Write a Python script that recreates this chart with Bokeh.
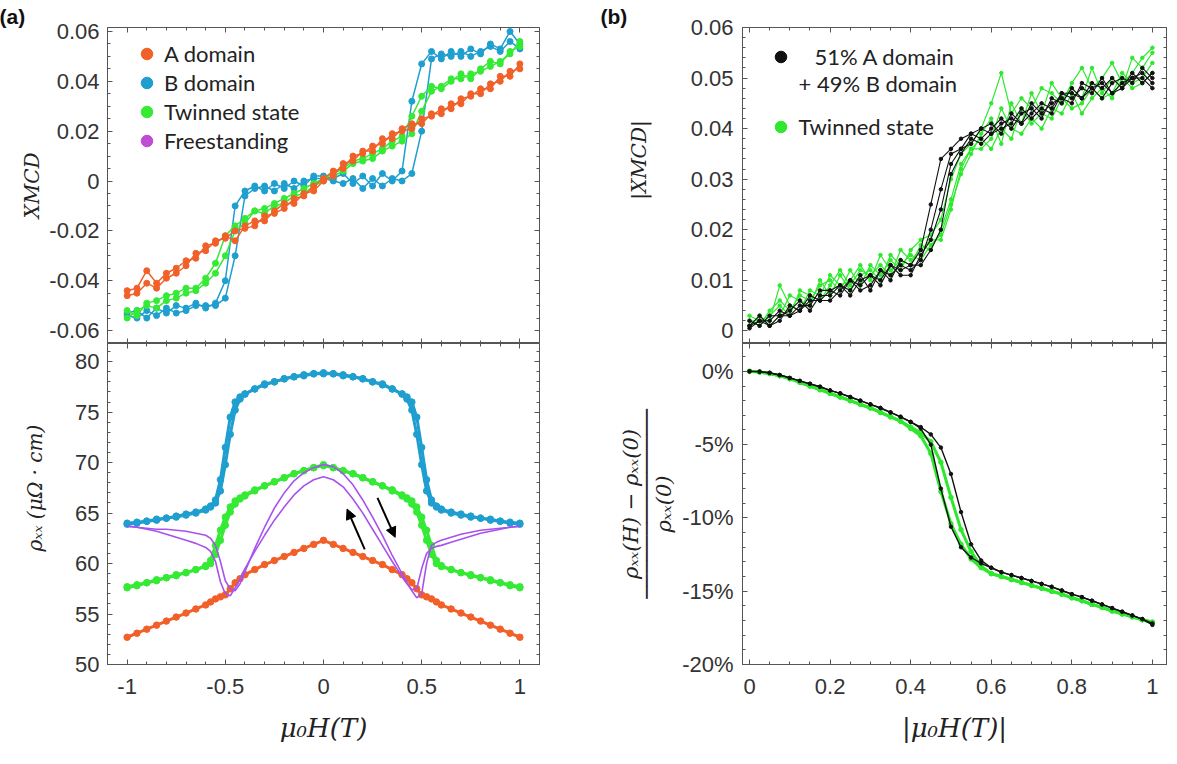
import math
from bokeh.plotting import figure
from bokeh.layouts import row, column
from bokeh.models import (Range1d, LinearAxis, FixedTicker, Label, Legend, LegendItem,
                          Arrow, NormalHead)
from bokeh.embed import file_html
from bokeh.resources import INLINE

# ---------------- data: panel (a) top, XMCD vs field ----------------
H_a = [-1.0, -0.95, -0.9, -0.85, -0.8, -0.75, -0.7, -0.65, -0.6, -0.55,
       -0.5, -0.45, -0.4, -0.35, -0.3, -0.25, -0.2, -0.15, -0.1, -0.05,
       0.0,
       0.05, 0.1, 0.15, 0.2, 0.25, 0.3, 0.35, 0.4, 0.45, 0.5,
       0.55, 0.6, 0.65, 0.7, 0.75, 0.8, 0.85, 0.9, 0.95, 1.0]
A_up = [-0.046, -0.045, -0.041, -0.043, -0.039, -0.037, -0.034, -0.029, -0.028, -0.024,
        -0.023, -0.020, -0.019, -0.018, -0.014, -0.013, -0.011, -0.007, -0.006, -0.002,
        0.001,
        0.004, 0.005, 0.010, 0.011, 0.014, 0.015, 0.019, 0.020, 0.021, 0.025,
        0.026, 0.029, 0.029, 0.033, 0.034, 0.037, 0.037, 0.042, 0.042, 0.047]
A_dn = [-0.044, -0.043, -0.036, -0.041, -0.037, -0.035, -0.032, -0.031, -0.026, -0.025,
        -0.022, -0.024, -0.018, -0.016, -0.016, -0.012, -0.009, -0.009, -0.005, -0.004,
        0.000,
        0.002, 0.007, 0.008, 0.012, 0.012, 0.017, 0.017, 0.021, 0.023, 0.023,
        0.027, 0.027, 0.031, 0.031, 0.035, 0.035, 0.039, 0.040, 0.044, 0.045]
B_up = [-0.054, -0.055, -0.052, -0.054, -0.051, -0.053, -0.052, -0.050, -0.050, -0.050,
        -0.047, -0.030, -0.006, -0.003, -0.002, -0.004, -0.001, -0.003, 0.000, 0.001,
        0.001,
        0.000, -0.001, 0.001, -0.003, 0.001, -0.002, 0.001, 0.000, 0.003, 0.020,
        0.049, 0.051, 0.050, 0.052, 0.050, 0.052, 0.054, 0.052, 0.056, 0.053]
B_dn = [-0.053, -0.052, -0.055, -0.051, -0.053, -0.050, -0.051, -0.049, -0.051, -0.049,
        -0.040, -0.010, -0.004, -0.002, -0.004, -0.001, -0.003, 0.000, -0.002, 0.002,
        0.002,
        0.001, 0.003, -0.001, 0.002, -0.002, 0.003, 0.000, 0.004, 0.032, 0.047,
        0.052, 0.049, 0.052, 0.050, 0.053, 0.051, 0.055, 0.053, 0.060, 0.055]
G_up = [-0.055, -0.052, -0.050, -0.051, -0.048, -0.047, -0.045, -0.044, -0.041, -0.037,
        -0.030, -0.020, -0.017, -0.012, -0.013, -0.010, -0.009, -0.006, -0.005, -0.002,
        0.000,
        0.002, 0.004, 0.007, 0.008, 0.009, 0.012, 0.014, 0.016, 0.019, 0.028,
        0.036, 0.038, 0.041, 0.041, 0.043, 0.044, 0.046, 0.048, 0.051, 0.056]
G_dn = [-0.052, -0.054, -0.049, -0.048, -0.046, -0.045, -0.043, -0.043, -0.039, -0.033,
        -0.022, -0.018, -0.015, -0.012, -0.011, -0.009, -0.007, -0.005, -0.003, -0.001,
        0.001,
        0.003, 0.005, 0.008, 0.009, 0.011, 0.013, 0.016, 0.018, 0.026, 0.034,
        0.038, 0.037, 0.040, 0.043, 0.041, 0.045, 0.048, 0.047, 0.052, 0.054]

# ---------------- data: panel (a) bottom, rho_xx vs field ----------------
H_r = [-1.0, -0.95, -0.9, -0.85, -0.8, -0.75, -0.7, -0.65, -0.6,
       -0.575, -0.55, -0.525, -0.5, -0.475, -0.45, -0.425,
       -0.4, -0.35, -0.3, -0.25, -0.2, -0.15, -0.1, -0.05, 0.0, 0.05, 0.1, 0.15, 0.2, 0.25, 0.3, 0.35, 0.4,
       0.425, 0.45, 0.475, 0.5, 0.525, 0.55, 0.575,
       0.6, 0.65, 0.7, 0.75, 0.8, 0.85, 0.9, 0.95, 1.0]
A_rho = [52.7, 53.1, 53.5, 53.9, 54.3, 54.7, 55.1, 55.5, 55.9,
         56.2, 56.5, 56.7, 56.9, 57.5, 58.1, 58.5,
         58.9, 59.4, 59.9, 60.3, 60.7, 61.1, 61.5, 61.9, 62.3, 61.9, 61.5, 61.1, 60.7, 60.3, 59.9, 59.4, 58.9,
         58.5, 58.1, 57.5, 56.9, 56.7, 56.5, 56.2,
         55.9, 55.5, 55.1, 54.7, 54.3, 53.9, 53.5, 53.1, 52.7]
B1_rho = [64.0, 64.1, 64.2, 64.4, 64.5, 64.7, 64.9, 65.1, 65.4,
          65.7, 66.3, 68.3, 71.5, 74.5, 76.0, 76.5,
          76.8, 77.3, 77.8, 78.0, 78.3, 78.5, 78.6, 78.8, 78.8, 78.8, 78.6, 78.5, 78.3, 78.0, 77.8, 77.3, 76.8,
          76.3, 75.2, 72.8, 69.8, 67.2, 66.0, 65.6,
          65.4, 65.1, 64.9, 64.7, 64.5, 64.4, 64.2, 64.1, 64.0]
B2_rho = [63.9, 64.0, 64.2, 64.3, 64.5, 64.6, 64.8, 65.0, 65.3,
          65.6, 66.0, 67.2, 69.8, 72.8, 75.2, 76.3,
          76.8, 77.3, 77.7, 78.0, 78.3, 78.5, 78.7, 78.8, 78.9, 78.8, 78.7, 78.5, 78.3, 78.0, 77.7, 77.3, 76.8,
          76.5, 76.0, 74.5, 71.5, 68.3, 66.3, 65.7,
          65.3, 65.0, 64.8, 64.6, 64.5, 64.3, 64.2, 64.0, 63.9]
G1_rho = [57.6, 57.8, 58.1, 58.3, 58.6, 58.8, 59.1, 59.4, 59.7,
          60.3, 61.8, 63.3, 64.6, 65.6, 66.2, 66.5,
          66.8, 67.3, 67.7, 68.1, 68.5, 68.9, 69.2, 69.5, 69.7, 69.5, 69.2, 68.9, 68.5, 68.1, 67.7, 67.3, 66.8,
          66.4, 65.9, 65.1, 63.8, 62.3, 60.9, 60.0,
          59.7, 59.4, 59.1, 58.8, 58.6, 58.3, 58.1, 57.8, 57.6]
G2_rho = [57.7, 57.9, 58.1, 58.4, 58.6, 58.9, 59.1, 59.4, 59.8,
          60.0, 60.9, 62.3, 63.8, 65.1, 65.9, 66.4,
          66.7, 67.2, 67.7, 68.1, 68.5, 68.9, 69.2, 69.5, 69.8, 69.5, 69.2, 68.9, 68.5, 68.1, 67.7, 67.2, 66.7,
          66.5, 66.2, 65.6, 64.6, 63.3, 61.8, 60.3,
          59.8, 59.4, 59.1, 58.9, 58.6, 58.4, 58.1, 57.9, 57.7]
P1_rho = [63.7, 63.6, 63.5, 63.4, 63.4, 63.3, 63.2, 63.0, 62.8,
          62.5, 61.8, 60.2, 58.3, 57.5, 57.3, 58.0,
          59.2, 61.5, 63.6, 65.5, 67.0, 68.2, 69.0, 69.5, 69.8, 69.6, 68.9, 67.8, 66.3, 64.6, 62.8, 60.8, 59.0,
          58.1, 57.3, 56.6, 57.0, 60.0, 61.8, 62.1,
          62.3, 62.6, 62.9, 63.1, 63.3, 63.4, 63.5, 63.6, 63.7]
P2_rho = [63.7, 63.6, 63.4, 63.2, 62.9, 62.6, 62.3, 62.0, 61.6,
          61.2, 60.2, 58.2, 57.0, 56.8, 57.6, 58.5,
          59.5, 61.2, 62.8, 64.3, 65.6, 66.8, 67.7, 68.3, 68.6, 68.3, 67.6, 66.4, 65.0, 63.4, 61.8, 60.2, 58.7,
          58.0, 57.4, 57.5, 59.5, 61.0, 61.5, 61.7,
          61.8, 62.1, 62.4, 62.7, 63.0, 63.2, 63.4, 63.6, 63.7]

# ---------------- data: panel (b) top, |XMCD| vs |H| ----------------
H_b = [0.0, 0.025, 0.05, 0.075, 0.1, 0.125, 0.15, 0.175, 0.2, 0.225,
       0.25, 0.275, 0.3, 0.325, 0.35, 0.375, 0.4, 0.425, 0.45, 0.475,
       0.5, 0.525, 0.55, 0.575, 0.6, 0.625, 0.65, 0.675, 0.7, 0.725,
       0.75, 0.775, 0.8, 0.825, 0.85, 0.875, 0.9, 0.925, 0.95, 0.975,
       1.0]
K1 = [0.0005, 0.002, 0.001, 0.003, 0.003, 0.005, 0.005, 0.008, 0.008, 0.007,
      0.010, 0.009, 0.011, 0.010, 0.013, 0.012, 0.013, 0.016, 0.025, 0.034,
      0.036, 0.038, 0.039, 0.040, 0.041, 0.039, 0.043, 0.041, 0.043, 0.045,
      0.044, 0.047, 0.046, 0.048, 0.047, 0.050, 0.047, 0.049, 0.050, 0.051,
      0.049]
K2 = [0.001, 0.003, 0.001, 0.002, 0.005, 0.004, 0.006, 0.006, 0.008, 0.009,
      0.008, 0.011, 0.008, 0.012, 0.011, 0.013, 0.012, 0.014, 0.020, 0.028,
      0.035, 0.036, 0.039, 0.038, 0.040, 0.042, 0.040, 0.043, 0.044, 0.042,
      0.046, 0.045, 0.048, 0.046, 0.049, 0.048, 0.050, 0.048, 0.051, 0.049,
      0.051]
K3 = [0.002, 0.001, 0.003, 0.003, 0.004, 0.006, 0.004, 0.007, 0.007, 0.009,
      0.007, 0.010, 0.011, 0.009, 0.013, 0.011, 0.011, 0.015, 0.018, 0.024,
      0.033, 0.036, 0.037, 0.040, 0.039, 0.041, 0.042, 0.041, 0.045, 0.043,
      0.045, 0.046, 0.045, 0.049, 0.048, 0.046, 0.049, 0.050, 0.049, 0.052,
      0.050]
K4 = [0.001, 0.002, 0.002, 0.004, 0.003, 0.004, 0.007, 0.006, 0.006, 0.008,
      0.010, 0.008, 0.009, 0.012, 0.010, 0.014, 0.013, 0.013, 0.016, 0.020,
      0.031, 0.035, 0.038, 0.037, 0.039, 0.040, 0.041, 0.044, 0.042, 0.044,
      0.043, 0.047, 0.047, 0.046, 0.048, 0.049, 0.047, 0.048, 0.050, 0.050,
      0.048]
GB1 = [0.002, 0.001, 0.004, 0.006, 0.004, 0.007, 0.006, 0.009, 0.010, 0.008,
       0.012, 0.009, 0.013, 0.011, 0.014, 0.012, 0.016, 0.018, 0.019, 0.022,
       0.030, 0.035, 0.037, 0.040, 0.045, 0.051, 0.043, 0.046, 0.044, 0.048,
       0.047, 0.045, 0.049, 0.052, 0.048, 0.050, 0.053, 0.049, 0.051, 0.054,
       0.056]
GB2 = [0.003, 0.002, 0.002, 0.009, 0.005, 0.004, 0.008, 0.007, 0.011, 0.009,
       0.010, 0.013, 0.010, 0.015, 0.012, 0.014, 0.013, 0.017, 0.016, 0.020,
       0.026, 0.033, 0.036, 0.038, 0.036, 0.040, 0.038, 0.044, 0.041, 0.043,
       0.042, 0.046, 0.044, 0.045, 0.048, 0.046, 0.047, 0.051, 0.049, 0.050,
       0.053]
GB3 = [0.001, 0.003, 0.001, 0.003, 0.007, 0.006, 0.005, 0.010, 0.007, 0.011,
       0.008, 0.011, 0.012, 0.010, 0.015, 0.013, 0.015, 0.014, 0.017, 0.019,
       0.025, 0.031, 0.035, 0.039, 0.042, 0.037, 0.045, 0.041, 0.047, 0.043,
       0.049, 0.046, 0.048, 0.046, 0.052, 0.047, 0.050, 0.048, 0.054, 0.052,
       0.055]
GB4 = [0.002, 0.002, 0.003, 0.005, 0.003, 0.008, 0.007, 0.006, 0.009, 0.012,
       0.009, 0.012, 0.011, 0.013, 0.011, 0.016, 0.014, 0.016, 0.018, 0.018,
       0.024, 0.032, 0.036, 0.036, 0.038, 0.044, 0.040, 0.039, 0.042, 0.040,
       0.044, 0.043, 0.047, 0.043, 0.046, 0.048, 0.046, 0.050, 0.048, 0.049,
       0.051]

# ---------------- data: panel (b) bottom, normalized MR (%) ----------------
MK1 = [0.0, -0.02, -0.1, -0.25, -0.45, -0.65, -0.85, -1.05, -1.3, -1.5,
       -1.75, -2.0, -2.25, -2.5, -2.8, -3.1, -3.45, -3.8, -4.3, -5.2,
       -7.0, -9.6, -11.8, -12.9, -13.4, -13.7, -13.9, -14.1, -14.3, -14.5,
       -14.7, -14.95, -15.2, -15.4, -15.65, -15.9, -16.15, -16.4, -16.65, -16.9,
       -17.2]
MK2 = [0.0, -0.02, -0.1, -0.25, -0.45, -0.65, -0.85, -1.05, -1.3, -1.5,
       -1.75, -2.0, -2.25, -2.5, -2.8, -3.1, -3.45, -3.9, -5.0, -8.0,
       -10.6, -12.0, -12.7, -13.1, -13.4, -13.7, -13.9, -14.1, -14.3, -14.5,
       -14.7, -14.95, -15.2, -15.4, -15.65, -15.9, -16.15, -16.4, -16.65, -16.9,
       -17.3]
MG1 = [0.0, -0.05, -0.15, -0.3, -0.5, -0.75, -1.0, -1.25, -1.5, -1.75,
       -2.0, -2.25, -2.5, -2.8, -3.1, -3.4, -3.8, -4.2, -4.8, -6.2,
       -8.6, -10.8, -12.3, -13.3, -13.8, -14.0, -14.2, -14.4, -14.6, -14.8,
       -15.0, -15.2, -15.45, -15.65, -15.9, -16.1, -16.35, -16.55, -16.75, -16.95,
       -17.1]
MG2 = [0.0, -0.05, -0.15, -0.3, -0.5, -0.75, -1.0, -1.25, -1.5, -1.75,
       -2.0, -2.25, -2.5, -2.8, -3.1, -3.4, -3.9, -4.4, -5.6, -8.2,
       -10.4, -11.8, -12.8, -13.4, -13.8, -14.0, -14.2, -14.4, -14.6, -14.8,
       -15.0, -15.2, -15.45, -15.65, -15.9, -16.1, -16.35, -16.55, -16.75, -16.95,
       -17.15]

# ---------------- ticks and labels ----------------
XA_TICKS = [-1, -0.5, 0, 0.5, 1]
XA_LABELS = ["-1", "-0.5", "0", "0.5", "1"]
XB_TICKS = [0, 0.2, 0.4, 0.6, 0.8, 1]
XB_LABELS = ["0", "0.2", "0.4", "0.6", "0.8", "1"]
YA1_TICKS = [-0.06, -0.04, -0.02, 0, 0.02, 0.04, 0.06]
YA1_LABELS = ["-0.06", "-0.04", "-0.02", "0", "0.02", "0.04", "0.06"]
YA2_TICKS = [50, 55, 60, 65, 70, 75, 80]
YA2_LABELS = ["50", "55", "60", "65", "70", "75", "80"]
YB1_TICKS = [0, 0.01, 0.02, 0.03, 0.04, 0.05, 0.06]
YB1_LABELS = ["0", "0.01", "0.02", "0.03", "0.04", "0.05", "0.06"]
YB2_TICKS = [-20, -15, -10, -5, 0]
YB2_LABELS = ["-20%", "-15%", "-10%", "-5%", "0%"]

XA_MINOR = [round(-1.0 + 0.1 * i, 2) for i in range(21)]
XB_MINOR = [round(0.05 * i, 3) for i in range(21)]
YA1_MINOR = [round(-0.06 + 0.005 * i, 4) for i in range(25)]
YA2_MINOR = [50 + i for i in range(32)]
YB1_MINOR = [round(0.002 * i, 4) for i in range(31)]
YB2_MINOR = [-20 + i for i in range(22)]

LEGEND_A = ["A domain", "B domain", "Twinned state", "Freestanding"]
LEGEND_B = ["51% A domain", "+ 49% B domain", "Twinned state"]

C_A = "#F2602A"
C_B = "#1F9FCF"
C_G = "#35EA35"
C_P = "#A852EE"
C_PDOT = "#C04CD4"
C_K = "#111111"
C_GB = "#2EE82E"
AXC = "#555555"
TXT = "#333333"
MATHF = "DejaVu Serif"
NB = "\u00a0"


def make_fig(xr, yr, fw, fh, bl, br, bt, bb, title=None, title_offset=0):
    p = figure(x_range=Range1d(*xr), y_range=Range1d(*yr), frame_width=fw, frame_height=fh,
               min_border_left=bl, min_border_right=br, min_border_top=bt, min_border_bottom=bb,
               output_backend="svg", toolbar_location=None, title=title,
               background_fill_color="white", border_fill_color="white")
    p.xgrid.visible = False
    p.ygrid.visible = False
    p.outline_line_color = AXC
    p.outline_line_width = 1
    if title is not None:
        p.title.align = "left"
        p.title.offset = title_offset
        p.title.standoff = 0
        p.title.text_font = "Liberation Sans"
        p.title.text_font_style = "bold"
        p.title.text_font_size = "21px"
        p.title.text_color = "#111111"
    return p


def style(ax, ticker, overrides, standoff):
    ax.ticker = ticker
    ax.axis_line_color = AXC
    ax.major_tick_line_color = AXC
    ax.minor_tick_line_color = AXC
    ax.major_tick_in = 5
    ax.major_tick_out = 0
    ax.minor_tick_in = 3
    ax.minor_tick_out = 0
    if overrides is not None:
        ax.major_label_overrides = overrides
        ax.major_label_text_font = "Liberation Sans"
        ax.major_label_text_font_size = "22px"
        ax.major_label_text_color = TXT
        ax.major_label_standoff = standoff
    else:
        ax.major_label_text_color = None
        ax.major_label_text_font_size = "0px"
        ax.major_label_standoff = 0


def add_axes(p, xt, xmin, xlab, yt, ymin, ylab, show_x, ystand):
    bottom = p.below[0]
    left = p.left[0]
    xtick = FixedTicker(ticks=xt, minor_ticks=xmin)
    ytick = FixedTicker(ticks=yt, minor_ticks=ymin)
    top = LinearAxis()
    right = LinearAxis()
    p.add_layout(top, "above")
    p.add_layout(right, "right")
    style(bottom, xtick, dict(zip(xt, xlab)) if show_x else None, 14)
    style(top, xtick, None, 0)
    style(left, ytick, dict(zip(yt, ylab)), ystand)
    style(right, ytick, None, 0)
    return bottom, left


def axis_title(ax, text, size, standoff, line_height=1.2):
    ax.axis_label = text
    ax.axis_label_text_font = MATHF
    ax.axis_label_text_font_style = "italic"
    ax.axis_label_text_font_size = size
    ax.axis_label_text_color = "#222222"
    ax.axis_label_standoff = standoff
    ax.axis_label_text_line_height = line_height


# ================= panel (a) top =================
pa1 = make_fig((-1.1, 1.1), (-0.0652, 0.0616), 432, 316, 107, 30, 27, 0,
               title="(a)", title_offset=-108)
_, la1 = add_axes(pa1, XA_TICKS, XA_MINOR, XA_LABELS, YA1_TICKS, YA1_MINOR, YA1_LABELS, False, 8)
axis_title(la1, "XMCD", "20px", 2)
rends = {}
for name, ys, col in [("B_up", B_up, C_B), ("B_dn", B_dn, C_B),
                      ("G_up", G_up, C_G), ("G_dn", G_dn, C_G),
                      ("A_up", A_up, C_A), ("A_dn", A_dn, C_A)]:
    pa1.line(H_a, ys, line_color=col, line_width=1.5)
    rends[name] = pa1.scatter(H_a, ys, size=6, color=col)
# legend swatch only: freestanding data lie far outside this panel's range
fs_swatch = pa1.scatter(H_r, P1_rho, size=6, color=C_PDOT)
leg_a = Legend(items=[LegendItem(label=LEGEND_A[0], renderers=[rends["A_up"]]),
                      LegendItem(label=LEGEND_A[1], renderers=[rends["B_up"]]),
                      LegendItem(label=LEGEND_A[2], renderers=[rends["G_up"]]),
                      LegendItem(label=LEGEND_A[3], renderers=[fs_swatch])],
               location=(25, 188), glyph_width=29, glyph_height=29, label_height=29,
               label_standoff=3, spacing=0, padding=0, margin=0,
               border_line_alpha=0, background_fill_alpha=0,
               label_text_font="Lato", label_text_font_size="22px", label_text_color="#222222")
pa1.add_layout(leg_a)

# ================= panel (a) bottom =================
pa2 = make_fig((-1.1, 1.1), (50, 81.8), 432, 321, 107, 30, 0, 88)
ba2, la2 = add_axes(pa2, XA_TICKS, XA_MINOR, XA_LABELS, YA2_TICKS, YA2_MINOR, YA2_LABELS, True, 8)
axis_title(la2, NB * 5 + "ρₓₓ (μΩ · cm)", "20px", 25)
axis_title(ba2, "μ₀H(T)", "26px", 16)
for ys, col in [(A_rho, C_A), (G1_rho, C_G), (G2_rho, C_G), (B1_rho, C_B), (B2_rho, C_B)]:
    pa2.line(H_r, ys, line_color=col, line_width=3)
    pa2.scatter(H_r, ys, size=6.5, color=col)
for ys in [P1_rho, P2_rho]:
    pa2.line(H_r, ys, line_color=C_P, line_width=1.6)
ARROW_UP = (0.21, 61.4, 0.12, 65.4)
ARROW_DN = (0.275, 66.5, 0.365, 62.6)
for (x0, y0, x1, y1) in [ARROW_UP, ARROW_DN]:
    pa2.add_layout(Arrow(end=NormalHead(size=10, fill_color="black", line_color="black"),
                         x_start=x0, y_start=y0, x_end=x1, y_end=y1,
                         line_color="black", line_width=2))

# ================= panel (b) top =================
pb1 = make_fig((-0.0174, 1.035), (-0.0025, 0.06), 424, 316, 173, 2, 27, 0,
               title="(b)", title_offset=-142)
_, lb1 = add_axes(pb1, XB_TICKS, XB_MINOR, XB_LABELS, YB1_TICKS, YB1_MINOR, YB1_LABELS, False, 9)
axis_title(lb1, NB * 8 + "|XMCD|", "20px", 37)
g_rs = []
for ys in [GB1, GB2, GB3, GB4]:
    pb1.line(H_b, ys, line_color=C_GB, line_width=1.2)
    g_rs.append(pb1.scatter(H_b, ys, size=3.5, color=C_GB))
k_rs = []
for ys in [K1, K2, K3, K4]:
    pb1.line(H_b, ys, line_color=C_K, line_width=1.1)
    k_rs.append(pb1.scatter(H_b, ys, size=3.5, color=C_K))
leg_kw = dict(glyph_width=29, glyph_height=29, label_height=29, spacing=0, padding=0, margin=0,
              border_line_alpha=0, background_fill_alpha=0,
              label_text_font="Lato", label_text_font_size="22px", label_text_color="#222222")
leg_b1 = Legend(items=[LegendItem(label=LEGEND_B[0], renderers=[k_rs[0]])],
                location=(23.5, 272.5), label_standoff=20, **leg_kw)
leg_b2 = Legend(items=[LegendItem(label=LEGEND_B[2], renderers=[g_rs[0]])],
                location=(23.5, 202.5), label_standoff=4, **leg_kw)
pb1.add_layout(leg_b1)
pb1.add_layout(leg_b2)
pb1.add_layout(Label(x=56, y=260, x_units="screen", y_units="screen", text=LEGEND_B[1],
                     text_align="left", text_baseline="middle", text_font="Lato",
                     text_font_size="22px", text_color="#222222"))

# ================= panel (b) bottom =================
pb2 = make_fig((-0.0174, 1.035), (-20, 1.9), 424, 321, 173, 2, 0, 88)
bb2, lb2 = add_axes(pb2, XB_TICKS, XB_MINOR, XB_LABELS, YB2_TICKS, YB2_MINOR, YB2_LABELS, True, 9)
axis_title(lb2, "ρₓₓ(H) − ρₓₓ(0)\n" + "─" * 15 + "\nρₓₓ(0)", "21px", 3, line_height=0.7)
axis_title(bb2, "|μ₀H(T)|", "26px", 16)
for ys in [MG1, MG2]:
    pb2.line(H_b, ys, line_color=C_GB, line_width=3)
    pb2.scatter(H_b, ys, size=4.5, color=C_GB)
for ys in [MK1, MK2]:
    pb2.line(H_b, ys, line_color=C_K, line_width=1.4)
    pb2.scatter(H_b, ys, size=3.5, color=C_K)

layout = row(column(pa1, pa2), column(pb1, pb2))
open("out.html", "w").write(file_html(layout, INLINE))
